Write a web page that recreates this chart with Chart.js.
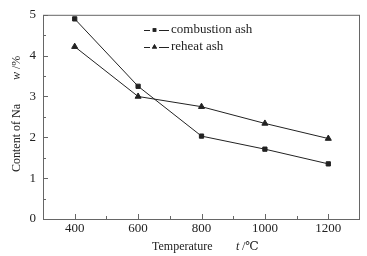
<!DOCTYPE html>
<html>
<head>
<meta charset="utf-8">
<script src="https://cdn.jsdelivr.net/npm/chart.js@4/dist/chart.umd.min.js"></script>
<style>
  html, body { margin: 0; padding: 0; background: #fff; }
  #wrap { width: 367px; height: 256px; }
</style>
</head>
<body>
<div id="wrap"><canvas id="chartNa"></canvas></div>
<script>
const temperatures = [400, 600, 800, 1000, 1200];
const combustionAsh = [4.9, 3.25, 2.03, 1.71, 1.35];
const reheatAsh = [4.22, 3.0, 2.75, 2.34, 1.97];
const xTicks = [400, 600, 800, 1000, 1200];
const xMinorTicks = [500, 700, 900, 1100];
const yTicks = [0, 1, 2, 3, 4, 5];
const yMinorTicks = [0.5, 1.5, 2.5, 3.5, 4.5];

const serif = "'Liberation Serif', 'DejaVu Serif', serif";
const ink = '#222';
const frame = '#666';

// frame on all sides, inward ticks, in-plot legend and axis titles with italic symbols
const decor = {
    id: 'decor',
    afterDraw(chart) {
        const { ctx, chartArea: a, scales: { x, y } } = chart;
        ctx.save();
        ctx.strokeStyle = frame;
        ctx.lineWidth = 1;
        ctx.strokeRect(a.left + 0.5, a.top + 0.5, a.right - a.left - 1, a.bottom - a.top);

        ctx.beginPath();
        xTicks.forEach(v => { const px = Math.round(x.getPixelForValue(v)) + 0.5; ctx.moveTo(px, a.bottom); ctx.lineTo(px, a.bottom - 5); });
        xMinorTicks.forEach(v => { const px = Math.round(x.getPixelForValue(v)) + 0.5; ctx.moveTo(px, a.bottom); ctx.lineTo(px, a.bottom - 3); });
        yTicks.forEach(v => { const py = Math.round(y.getPixelForValue(v)) + 0.5; ctx.moveTo(a.left, py); ctx.lineTo(a.left + 5, py); });
        yMinorTicks.forEach(v => { const py = Math.round(y.getPixelForValue(v)) + 0.5; ctx.moveTo(a.left, py); ctx.lineTo(a.left + 3, py); });
        ctx.stroke();

        // legend
        const items = [
            { label: 'combustion ash', style: 'rect', r: 2.5 },
            { label: 'reheat ash', style: 'triangle', r: 3 }
        ];
        ctx.font = '13px ' + serif;
        ctx.textBaseline = 'middle';
        ctx.fillStyle = ink;
        items.forEach((it, i) => {
            const ly = 30 + i * 17;
            ctx.strokeStyle = ink;
            ctx.beginPath();
            ctx.moveTo(144, ly + 0.5); ctx.lineTo(150, ly + 0.5);
            ctx.moveTo(159, ly + 0.5); ctx.lineTo(169, ly + 0.5);
            ctx.stroke();
            Chart.helpers.drawPoint(ctx, { pointStyle: it.style, radius: it.r, borderWidth: 0 }, 154.5, ly);
            ctx.fill();
            ctx.fillText(it.label, 171, ly);
        });

        // axis titles
        ctx.textBaseline = 'alphabetic';
        ctx.textAlign = 'left';
        ctx.font = '12px ' + serif;
        ctx.fillText('Temperature', 152, 250);
        ctx.font = 'italic 12px ' + serif;
        ctx.fillText('t', 236, 250);
        ctx.font = '12px ' + serif;
        ctx.fillText('/℃', 242, 250);

        ctx.translate(20, 128);
        ctx.rotate(-Math.PI / 2);
        ctx.fillText('Content of Na', -44, 0);
        ctx.font = 'italic 12px ' + serif;
        ctx.fillText('w', 48, 0);
        ctx.font = '12px ' + serif;
        ctx.fillText('/%', 59, 0);
        ctx.restore();
    }
};

const ctx = document.getElementById('chartNa').getContext('2d');
new Chart(ctx, {
    type: 'line',
    data: {
        labels: temperatures,
        datasets: [{
            label: 'combustion ash',
            data: temperatures.map((t, i) => ({ x: t, y: combustionAsh[i] })),
            borderColor: ink,
            backgroundColor: ink,
            borderWidth: 1,
            pointStyle: 'rect',
            pointRadius: 3,
            tension: 0
        }, {
            label: 'reheat ash',
            data: temperatures.map((t, i) => ({ x: t, y: reheatAsh[i] })),
            borderColor: ink,
            backgroundColor: ink,
            borderWidth: 1,
            pointStyle: 'triangle',
            pointRadius: 3.5,
            tension: 0
        }]
    },
    options: {
        responsive: true,
        maintainAspectRatio: false,
        animation: false,
        layout: { padding: { top: 12, right: 7, left: 0, bottom: 0 } },
        plugins: {
            legend: { display: false },
            tooltip: { enabled: false }
        },
        scales: {
            x: {
                type: 'linear',
                min: 300,
                max: 1300,
                afterBuildTicks: s => { s.ticks = xTicks.map(v => ({ value: v })); },
                afterFit: s => { s.height = 37; },
                grid: { display: false, drawTicks: false },
                border: { display: false },
                ticks: { color: ink, padding: 2, font: { family: serif, size: 13 }, callback: v => String(v) }
            },
            y: {
                min: 0,
                max: 5,
                afterBuildTicks: s => { s.ticks = yTicks.map(v => ({ value: v })); },
                afterFit: s => { s.width = 43; },
                grid: { display: false, drawTicks: false },
                border: { display: false },
                ticks: { color: ink, padding: 7, font: { family: serif, size: 13 }, callback: v => String(v) }
            }
        }
    },
    plugins: [decor]
});
</script>
</body>
</html>
